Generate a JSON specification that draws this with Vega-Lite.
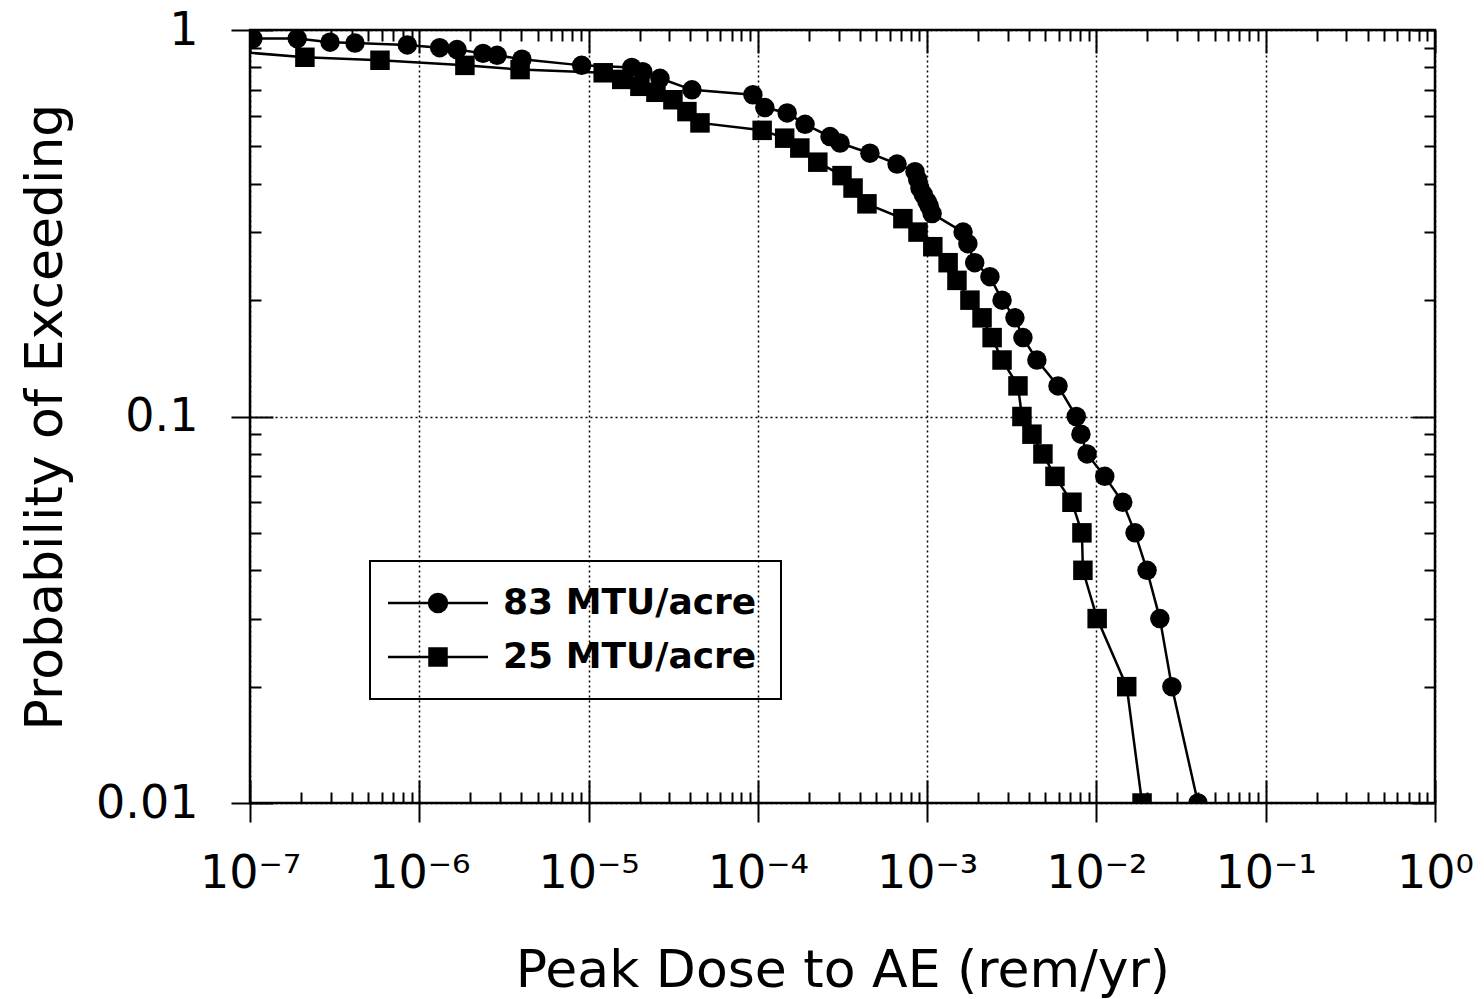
{
  "$schema": "https://vega.github.io/schema/vega-lite/v6.json",
  "width": 1185,
  "height": 773,
  "autosize": {"type": "none"},
  "padding": {"left": 250, "top": 30, "right": 49, "bottom": 196},
  "background": "white",
  "config": {
    "font": "DejaVu Sans",
    "view": {"stroke": "black", "strokeWidth": 2.5},
    "axis": {"domain": false, "grid": false, "tickColor": "black", "tickWidth": 2, "labelColor": "black", "titleColor": "black", "gridColor": "black", "gridDash": [2, 3], "gridWidth": 1.5, "gridOpacity": 1}
  },
  "data": {
    "values": [
      {"dose": 1.04e-7, "prob": 0.95, "series": "83 MTU/acre"},
      {"dose": 1.9e-7, "prob": 0.95, "series": "83 MTU/acre"},
      {"dose": 2.97e-7, "prob": 0.93, "series": "83 MTU/acre"},
      {"dose": 4.17e-7, "prob": 0.925, "series": "83 MTU/acre"},
      {"dose": 8.5e-7, "prob": 0.915, "series": "83 MTU/acre"},
      {"dose": 1.32e-6, "prob": 0.9, "series": "83 MTU/acre"},
      {"dose": 1.67e-6, "prob": 0.89, "series": "83 MTU/acre"},
      {"dose": 2.38e-6, "prob": 0.87, "series": "83 MTU/acre"},
      {"dose": 2.88e-6, "prob": 0.86, "series": "83 MTU/acre"},
      {"dose": 4.04e-6, "prob": 0.84, "series": "83 MTU/acre"},
      {"dose": 9.1e-6, "prob": 0.81, "series": "83 MTU/acre"},
      {"dose": 1.8e-5, "prob": 0.8, "series": "83 MTU/acre"},
      {"dose": 2.09e-5, "prob": 0.78, "series": "83 MTU/acre"},
      {"dose": 2.64e-5, "prob": 0.75, "series": "83 MTU/acre"},
      {"dose": 4.08e-5, "prob": 0.7, "series": "83 MTU/acre"},
      {"dose": 9.35e-5, "prob": 0.68, "series": "83 MTU/acre"},
      {"dose": 1.1e-4, "prob": 0.63, "series": "83 MTU/acre"},
      {"dose": 1.49e-4, "prob": 0.61, "series": "83 MTU/acre"},
      {"dose": 1.9e-4, "prob": 0.57, "series": "83 MTU/acre"},
      {"dose": 2.67e-4, "prob": 0.53, "series": "83 MTU/acre"},
      {"dose": 3.06e-4, "prob": 0.51, "series": "83 MTU/acre"},
      {"dose": 4.59e-4, "prob": 0.48, "series": "83 MTU/acre"},
      {"dose": 6.64e-4, "prob": 0.45, "series": "83 MTU/acre"},
      {"dose": 8.48e-4, "prob": 0.43, "series": "83 MTU/acre"},
      {"dose": 8.8e-4, "prob": 0.41, "series": "83 MTU/acre"},
      {"dose": 9.07e-4, "prob": 0.39, "series": "83 MTU/acre"},
      {"dose": 9.5e-4, "prob": 0.375, "series": "83 MTU/acre"},
      {"dose": 9.98e-4, "prob": 0.36, "series": "83 MTU/acre"},
      {"dose": 1.03e-3, "prob": 0.35, "series": "83 MTU/acre"},
      {"dose": 1.07e-3, "prob": 0.335, "series": "83 MTU/acre"},
      {"dose": 1.63e-3, "prob": 0.3, "series": "83 MTU/acre"},
      {"dose": 1.74e-3, "prob": 0.28, "series": "83 MTU/acre"},
      {"dose": 1.91e-3, "prob": 0.25, "series": "83 MTU/acre"},
      {"dose": 2.35e-3, "prob": 0.23, "series": "83 MTU/acre"},
      {"dose": 2.77e-3, "prob": 0.2, "series": "83 MTU/acre"},
      {"dose": 3.3e-3, "prob": 0.18, "series": "83 MTU/acre"},
      {"dose": 3.68e-3, "prob": 0.16, "series": "83 MTU/acre"},
      {"dose": 4.45e-3, "prob": 0.14, "series": "83 MTU/acre"},
      {"dose": 5.93e-3, "prob": 0.12, "series": "83 MTU/acre"},
      {"dose": 7.6e-3, "prob": 0.1, "series": "83 MTU/acre"},
      {"dose": 8.1e-3, "prob": 0.09, "series": "83 MTU/acre"},
      {"dose": 8.8e-3, "prob": 0.08, "series": "83 MTU/acre"},
      {"dose": 1.12e-2, "prob": 0.07, "series": "83 MTU/acre"},
      {"dose": 1.43e-2, "prob": 0.06, "series": "83 MTU/acre"},
      {"dose": 1.69e-2, "prob": 0.05, "series": "83 MTU/acre"},
      {"dose": 1.99e-2, "prob": 0.04, "series": "83 MTU/acre"},
      {"dose": 2.37e-2, "prob": 0.03, "series": "83 MTU/acre"},
      {"dose": 2.79e-2, "prob": 0.02, "series": "83 MTU/acre"},
      {"dose": 3.98e-2, "prob": 0.01, "series": "83 MTU/acre"},
      {"dose": 8e-8, "prob": 0.88, "series": "25 MTU/acre"},
      {"dose": 2.11e-7, "prob": 0.85, "series": "25 MTU/acre"},
      {"dose": 5.86e-7, "prob": 0.835, "series": "25 MTU/acre"},
      {"dose": 1.86e-6, "prob": 0.81, "series": "25 MTU/acre"},
      {"dose": 3.94e-6, "prob": 0.79, "series": "25 MTU/acre"},
      {"dose": 1.22e-5, "prob": 0.775, "series": "25 MTU/acre"},
      {"dose": 1.57e-5, "prob": 0.745, "series": "25 MTU/acre"},
      {"dose": 2.01e-5, "prob": 0.715, "series": "25 MTU/acre"},
      {"dose": 2.5e-5, "prob": 0.69, "series": "25 MTU/acre"},
      {"dose": 3.15e-5, "prob": 0.66, "series": "25 MTU/acre"},
      {"dose": 3.81e-5, "prob": 0.615, "series": "25 MTU/acre"},
      {"dose": 4.55e-5, "prob": 0.575, "series": "25 MTU/acre"},
      {"dose": 1.06e-4, "prob": 0.55, "series": "25 MTU/acre"},
      {"dose": 1.44e-4, "prob": 0.525, "series": "25 MTU/acre"},
      {"dose": 1.77e-4, "prob": 0.495, "series": "25 MTU/acre"},
      {"dose": 2.26e-4, "prob": 0.455, "series": "25 MTU/acre"},
      {"dose": 3.14e-4, "prob": 0.42, "series": "25 MTU/acre"},
      {"dose": 3.65e-4, "prob": 0.39, "series": "25 MTU/acre"},
      {"dose": 4.41e-4, "prob": 0.355, "series": "25 MTU/acre"},
      {"dose": 7.19e-4, "prob": 0.325, "series": "25 MTU/acre"},
      {"dose": 8.83e-4, "prob": 0.3, "series": "25 MTU/acre"},
      {"dose": 1.08e-3, "prob": 0.275, "series": "25 MTU/acre"},
      {"dose": 1.33e-3, "prob": 0.25, "series": "25 MTU/acre"},
      {"dose": 1.5e-3, "prob": 0.225, "series": "25 MTU/acre"},
      {"dose": 1.79e-3, "prob": 0.2, "series": "25 MTU/acre"},
      {"dose": 2.11e-3, "prob": 0.18, "series": "25 MTU/acre"},
      {"dose": 2.42e-3, "prob": 0.16, "series": "25 MTU/acre"},
      {"dose": 2.77e-3, "prob": 0.14, "series": "25 MTU/acre"},
      {"dose": 3.44e-3, "prob": 0.12, "series": "25 MTU/acre"},
      {"dose": 3.63e-3, "prob": 0.1, "series": "25 MTU/acre"},
      {"dose": 4.16e-3, "prob": 0.09, "series": "25 MTU/acre"},
      {"dose": 4.83e-3, "prob": 0.08, "series": "25 MTU/acre"},
      {"dose": 5.69e-3, "prob": 0.07, "series": "25 MTU/acre"},
      {"dose": 7.17e-3, "prob": 0.06, "series": "25 MTU/acre"},
      {"dose": 8.21e-3, "prob": 0.05, "series": "25 MTU/acre"},
      {"dose": 8.32e-3, "prob": 0.04, "series": "25 MTU/acre"},
      {"dose": 1.01e-2, "prob": 0.03, "series": "25 MTU/acre"},
      {"dose": 1.51e-2, "prob": 0.02, "series": "25 MTU/acre"},
      {"dose": 1.86e-2, "prob": 0.01, "series": "25 MTU/acre"}
    ]
  },
  "resolve": {"axis": {"x": "independent", "y": "independent"}, "scale": {"shape": "independent"}, "legend": {"shape": "independent"}},
  "layer": [
    {
      "mark": {"type": "line", "stroke": "black", "strokeWidth": 2.5, "clip": true},
      "encoding": {
        "x": {
          "field": "dose", "type": "quantitative",
          "scale": {"type": "log", "domain": [1e-7, 1], "nice": false},
          "axis": {
            "orient": "bottom", "values": [1e-7, 1e-6, 1e-5, 1e-4, 0.001, 0.01, 0.1, 1],
            "tickSize": 19, "grid": true,
            "labelExpr": "'10' + ['⁰','⁻¹','⁻²','⁻³','⁻⁴','⁻⁵','⁻⁶','⁻⁷'][round(-log(datum.value)/LN10)]",
            "labelFontSize": 46, "labelPadding": 29, "labelFlush": false, "labelOverlap": false,
            "title": "Peak Dose to AE (rem/yr)", "titleFontSize": 52, "titleFontWeight": "normal", "titlePadding": 49
          }
        },
        "y": {
          "field": "prob", "type": "quantitative",
          "scale": {"type": "log", "domain": [0.01, 1], "nice": false},
          "axis": {
            "orient": "left", "values": [0.01, 0.1, 1],
            "tickSize": 19, "grid": true,
            "labelExpr": "datum.value >= 0.999 ? '1' : datum.value >= 0.0999 ? '0.1' : '0.01'",
            "labelFontSize": 46, "labelPadding": 33, "labelFlush": false, "labelOverlap": false,
            "title": "Probability of Exceeding", "titleFontSize": 52, "titleFontWeight": "normal", "titlePadding": 23
          }
        },
        "detail": {"field": "series", "type": "nominal"}
      }
    },
    {
      "mark": {"type": "point", "filled": true, "color": "black", "opacity": 1, "clip": true, "size": 380},
      "encoding": {
        "x": {
          "field": "dose", "type": "quantitative",
          "axis": {"orient": "bottom", "values": [2e-7,3e-7,4e-7,5e-7,6e-7,7e-7,8e-7,9e-7,2e-6,3e-6,4e-6,5e-6,6e-6,7e-6,8e-6,9e-6,2e-5,3e-5,4e-5,5e-5,6e-5,7e-5,8e-5,9e-5,2e-4,3e-4,4e-4,5e-4,6e-4,7e-4,8e-4,9e-4,0.002,0.003,0.004,0.005,0.006,0.007,0.008,0.009,0.02,0.03,0.04,0.05,0.06,0.07,0.08,0.09,0.2,0.3,0.4,0.5,0.6,0.7,0.8,0.9], "tickSize": -11, "labels": false, "title": null, "grid": false}
        },
        "y": {
          "field": "prob", "type": "quantitative",
          "axis": {"orient": "left", "values": [0.02,0.03,0.04,0.05,0.06,0.07,0.08,0.09,0.2,0.3,0.4,0.5,0.6,0.7,0.8,0.9], "tickSize": -11, "labels": false, "title": null, "grid": false}
        },
        "shape": {
          "field": "series", "type": "nominal",
          "scale": {"domain": ["83 MTU/acre", "25 MTU/acre"], "range": ["circle", "square"]},
          "legend": null
        }
      }
    },
    {
      "mark": {"type": "point", "opacity": 0, "filled": true, "fill": "black", "stroke": "black", "strokeWidth": 2.5},
      "encoding": {
        "x": {"field": "dose", "type": "quantitative", "axis": {"orient": "bottom", "values": [1e-7, 1e-6, 1e-5, 1e-4, 0.001, 0.01, 0.1, 1], "tickSize": -23, "labels": false, "title": null, "grid": false}},
        "y": {"field": "prob", "type": "quantitative", "axis": {"orient": "left", "values": [0.01, 0.1, 1], "tickSize": -23, "labels": false, "title": null, "grid": false}},
        "shape": {
          "field": "series", "type": "nominal",
          "scale": {"domain": ["83 MTU/acre", "25 MTU/acre"], "range": ["M-5,0L5,0M-0.9,0A0.9,0.9,0,1,0,0.9,0A0.9,0.9,0,1,0,-0.9,0Z", "M-5,0L5,0M-0.85,-0.85L0.85,-0.85L0.85,0.85L-0.85,0.85Z"]},
          "legend": {
            "orient": "none", "legendX": 120, "legendY": 531, "title": null,
            "padding": 24, "rowPadding": 18,
            "symbolSize": 400, "symbolOffset": 26, "labelOffset": 47, "labelLimit": 0,
            "symbolOpacity": 1, "symbolFillColor": "black", "symbolStrokeColor": "black", "symbolStrokeWidth": 2.5,
            "labelFont": "DejaVu Sans", "labelFontSize": 36, "labelFontWeight": "bold", "labelColor": "black",
            "strokeColor": "black",
            "encoding": {
              "legend": {"strokeWidth": {"value": 2}},
              "symbols": {"stroke": {"value": "black"}, "strokeWidth": {"value": 2.5}, "fill": {"value": "black"}, "opacity": {"value": 1}}
            }
          }
        }
      }
    },
    {
      "mark": {"type": "point", "opacity": 0},
      "encoding": {
        "x": {"field": "dose", "type": "quantitative", "axis": {"orient": "top", "values": [1e-7, 1e-6, 1e-5, 1e-4, 0.001, 0.01, 0.1, 1], "tickSize": -23, "labels": false, "title": null, "grid": false}},
        "y": {"field": "prob", "type": "quantitative", "axis": {"orient": "right", "values": [0.01, 0.1, 1], "tickSize": -23, "labels": false, "title": null, "grid": false}}
      }
    },
    {
      "mark": {"type": "point", "opacity": 0},
      "encoding": {
        "x": {"field": "dose", "type": "quantitative", "axis": {"orient": "top", "values": [2e-7,3e-7,4e-7,5e-7,6e-7,7e-7,8e-7,9e-7,2e-6,3e-6,4e-6,5e-6,6e-6,7e-6,8e-6,9e-6,2e-5,3e-5,4e-5,5e-5,6e-5,7e-5,8e-5,9e-5,2e-4,3e-4,4e-4,5e-4,6e-4,7e-4,8e-4,9e-4,0.002,0.003,0.004,0.005,0.006,0.007,0.008,0.009,0.02,0.03,0.04,0.05,0.06,0.07,0.08,0.09,0.2,0.3,0.4,0.5,0.6,0.7,0.8,0.9], "tickSize": -11, "labels": false, "title": null, "grid": false}},
        "y": {"field": "prob", "type": "quantitative", "axis": {"orient": "right", "values": [0.02,0.03,0.04,0.05,0.06,0.07,0.08,0.09,0.2,0.3,0.4,0.5,0.6,0.7,0.8,0.9], "tickSize": -11, "labels": false, "title": null, "grid": false}}
      }
    }
  ]
}
